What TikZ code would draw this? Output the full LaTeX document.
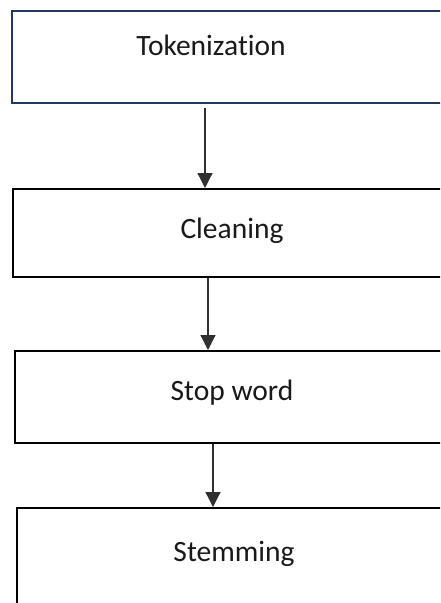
\documentclass[tikz,border=0pt]{standalone}
\usepackage{fontspec}
\setmainfont{Carlito}[Ligatures=NoCommon]
\usetikzlibrary{arrows.meta,calc}
\definecolor{navy}{HTML}{203864}
\definecolor{arrgray}{HTML}{303030}
\tikzset{
  stagebox/.style={draw=black, line width=2pt, rectangle, anchor=north west, inner sep=0pt},
  stagetext/.style={font=\fontsize{29.5}{34}\selectfont, anchor=base, inner sep=0pt, text=black!90},
  flowarrow/.style={draw=arrgray, line width=1.2pt, -{Triangle[width=15pt,length=15pt]}}
}
\begin{document}
\begin{tikzpicture}[x=1pt,y=-1pt]
\useasboundingbox (0,0) rectangle (440,603);
\clip (0,0) rectangle (440,603);
\node[stagebox, draw=navy, minimum width=480pt, minimum height=92pt] (b1) at (11,10) {};
\node[stagebox, minimum width=480pt, minimum height=88pt] (b2) at (12,188) {};
\node[stagebox, minimum width=480pt, minimum height=92pt] (b3) at (14,350) {};
\node[stagebox, minimum width=480pt, minimum height=140pt] (b4) at (16,507) {};
\node[stagetext] (t1) at (211,55) {Tokenization};
\node[stagetext] (t2) at (232,238) {Cleaning};
\node[stagetext] (t3) at (232,400) {Stop word};
\node[stagetext] (t4) at (234,561) {Stemming};
\coordinate (a1) at (205,108);
\draw[flowarrow] (a1) -- (a1 |- b2.north);
\draw[flowarrow] (b2.south -| 208,0) -- (b3.north -| 208,0);
\draw[flowarrow] (b3.south -| 213,0) -- (b4.north -| 213,0);
\end{tikzpicture}
\end{document}
